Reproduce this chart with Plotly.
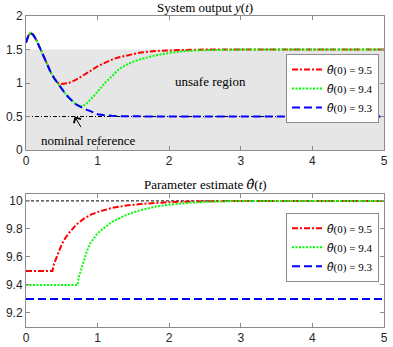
import plotly.graph_objects as go

# ---------------- data ----------------
THETA_HAT = "<span style='font-family:DejaVu Serif'><i>θ\u0302</i></span>"
legend_names = [THETA_HAT + "(0) = 9.5", THETA_HAT + "(0) = 9.4", THETA_HAT + "(0) = 9.3"]

# System output y(t)
t_y_red = [0, 0.03, 0.06, 0.1, 0.15, 0.2, 0.25, 0.3, 0.35, 0.4, 0.45, 0.5, 0.55, 0.6, 0.7,
           0.8, 0.9, 1.0, 1.1, 1.2, 1.3, 1.4, 1.5, 1.6, 1.8, 2.0, 2.3, 2.6, 3, 4, 5]
y_red = [1.6, 1.70, 1.75, 1.72, 1.63, 1.51, 1.38, 1.26, 1.15, 1.06, 1.0, 0.985, 0.99, 1.0, 1.05,
         1.11, 1.18, 1.25, 1.30, 1.35, 1.385, 1.41, 1.435, 1.455, 1.478, 1.49, 1.497, 1.5, 1.5, 1.5, 1.5]

t_y_green = [0, 0.03, 0.06, 0.1, 0.15, 0.2, 0.25, 0.3, 0.35, 0.4, 0.45, 0.5, 0.55, 0.6, 0.65, 0.7,
             0.75, 0.8, 0.85, 0.9, 0.95, 1.0, 1.1, 1.2, 1.3, 1.4, 1.5, 1.6, 1.8, 2.0, 2.2, 2.4, 2.7, 3, 4, 5]
y_green = [1.6, 1.70, 1.75, 1.72, 1.63, 1.51, 1.38, 1.26, 1.15, 1.06, 0.98, 0.90, 0.84, 0.78, 0.73, 0.68,
           0.65, 0.66, 0.70, 0.75, 0.81, 0.87, 1.0, 1.1, 1.21, 1.27, 1.32, 1.355, 1.41, 1.45, 1.475, 1.488, 1.496, 1.5, 1.5, 1.5]

t_y_blue = [0, 0.03, 0.06, 0.1, 0.15, 0.2, 0.25, 0.3, 0.35, 0.4, 0.45, 0.5, 0.55, 0.6, 0.65, 0.7,
            0.75, 0.8, 0.85, 0.9, 1.0, 1.1, 1.2, 1.4, 1.6, 2.0, 2.5, 3, 4, 5]
y_blue = [1.6, 1.70, 1.75, 1.72, 1.63, 1.51, 1.38, 1.26, 1.15, 1.06, 0.98, 0.90, 0.84, 0.78, 0.73, 0.68,
          0.65, 0.62, 0.60, 0.58, 0.535, 0.52, 0.51, 0.503, 0.501, 0.5, 0.5, 0.5, 0.5, 0.5]

# Parameter estimate theta_hat(t)
t_th_red = [0, 0.37, 0.39, 0.45, 0.5, 0.55, 0.6, 0.7, 0.8, 0.9, 1.0, 1.2, 1.4, 1.6, 1.8, 2.0, 2.3, 2.6, 3, 5]
th_red = [9.5, 9.5, 9.55, 9.635, 9.69, 9.735, 9.77, 9.83, 9.87, 9.9, 9.92, 9.95, 9.967, 9.978,
          9.986, 9.991, 9.996, 9.999, 10, 10]

t_th_green = [0, 0.72, 0.74, 0.78, 0.85, 0.9, 1.0, 1.1, 1.2, 1.4, 1.6, 1.8, 2.0, 2.3, 2.6, 3, 5]
th_green = [9.4, 9.4, 9.46, 9.53, 9.64, 9.70, 9.77, 9.81, 9.85, 9.90, 9.935, 9.958, 9.973, 9.987, 9.995, 10, 10]

t_th_blue = [0, 5]
th_blue = [9.3, 9.3]

# reference levels and region
t_span = [0, 5]
y_nominal = [0.5, 0.5]
theta_true = [10, 10]
unsafe_t = [0, 5, 5, 0]
unsafe_y = [0, 0, 1.5, 1.5]

x_ticks = [0, 1, 2, 3, 4, 5]
x_ticks_text = ["0", "1", "2", "3", "4", "5"]
y_ticks_top = [0, 0.5, 1, 1.5, 2]
y_ticks_top_text = ["0", "0.5", "1", "1.5", "2"]
y_ticks_bot = [9.2, 9.4, 9.6, 9.8, 10]
y_ticks_bot_text = ["9.2", "9.4", "9.6", "9.8", "10"]

# ---------------- styles ----------------
RED, GREEN, BLUE = "#ff0000", "#00ff00", "#0000ff"
DASH_RED = "6px,2px,2px,2px"
DASH_GREEN = "2px,1.5px"
DASH_BLUE = "8px,4px"
SERIF = "'Liberation Serif', 'Times New Roman', 'DejaVu Serif', serif"
SANS = "'Liberation Sans', Arial, Helvetica, sans-serif"
AXC = "#8c8c8c"

fig = go.Figure()

# unsafe region
fig.add_trace(go.Scatter(x=unsafe_t, y=unsafe_y, fill="toself", fillcolor="#e6e6e6",
                         line=dict(width=0), mode="lines", showlegend=False, hoverinfo="skip",
                         xaxis="x", yaxis="y"))
# nominal reference
fig.add_trace(go.Scatter(x=t_span, y=y_nominal, mode="lines",
                         line=dict(color="black", width=1, dash="4px,2px,1px,2px"),
                         showlegend=False, xaxis="x", yaxis="y"))

fig.add_trace(go.Scatter(x=t_y_red, y=y_red, mode="lines", name=legend_names[0],
                         line=dict(color=RED, width=2, dash=DASH_RED), xaxis="x", yaxis="y",
                         legend="legend"))
fig.add_trace(go.Scatter(x=t_y_green, y=y_green, mode="lines", name=legend_names[1],
                         line=dict(color=GREEN, width=2, dash=DASH_GREEN), xaxis="x", yaxis="y",
                         legend="legend"))
fig.add_trace(go.Scatter(x=t_y_blue, y=y_blue, mode="lines", name=legend_names[2],
                         line=dict(color=BLUE, width=2, dash=DASH_BLUE), xaxis="x", yaxis="y",
                         legend="legend"))

# bottom panel
fig.add_trace(go.Scatter(x=t_span, y=theta_true, mode="lines",
                         line=dict(color="black", width=1, dash="3px,2px"),
                         showlegend=False, xaxis="x2", yaxis="y2"))
fig.add_trace(go.Scatter(x=t_th_red, y=th_red, mode="lines", name=legend_names[0],
                         line=dict(color=RED, width=2, dash=DASH_RED), xaxis="x2", yaxis="y2",
                         legend="legend2"))
fig.add_trace(go.Scatter(x=t_th_green, y=th_green, mode="lines", name=legend_names[1],
                         line=dict(color=GREEN, width=2, dash=DASH_GREEN), xaxis="x2", yaxis="y2",
                         legend="legend2"))
fig.add_trace(go.Scatter(x=t_th_blue, y=th_blue, mode="lines", name=legend_names[2],
                         line=dict(color=BLUE, width=2, dash=DASH_BLUE), xaxis="x2", yaxis="y2",
                         legend="legend2"))

axis_common = dict(showline=True, linecolor=AXC, linewidth=1, mirror="ticks", ticks="inside",
                   ticklen=4, tickcolor=AXC, showgrid=False, zeroline=False,
                   automargin=False, ticklabeloverflow="allow",
                   tickfont=dict(family=SANS, size=12, color="#262626"))

X_RANGE = [0, 5]

fig.update_layout(
    template="none",
    width=393, height=347,
    margin=dict(l=26, r=9, t=16, b=20, autoexpand=False),
    plot_bgcolor="white", paper_bgcolor="white",
    hovermode=False,
    xaxis=dict(domain=[0, 1], range=X_RANGE, tickvals=x_ticks, ticktext=x_ticks_text, anchor="y", **axis_common),
    yaxis=dict(domain=[0.569, 1], range=[0, 2], tickvals=y_ticks_top, ticktext=y_ticks_top_text,
               anchor="x", **axis_common),
    xaxis2=dict(domain=[0, 1], range=X_RANGE, tickvals=x_ticks, ticktext=x_ticks_text, anchor="y2", **axis_common),
    yaxis2=dict(domain=[0, 0.428], range=[9.1, 10.05], tickvals=y_ticks_bot, ticktext=y_ticks_bot_text,
                anchor="x2", **axis_common),
    legend=dict(x=0.986, xanchor="right", y=0.878, yanchor="top", bgcolor="white",
                bordercolor=AXC, borderwidth=1, font=dict(family=SERIF, size=11, color="black"),
                tracegroupgap=0),
    legend2=dict(x=0.986, xanchor="right", y=0.367, yanchor="top", bgcolor="white",
                 bordercolor=AXC, borderwidth=1, font=dict(family=SERIF, size=11, color="black"),
                 tracegroupgap=0),
    showlegend=True,
    annotations=[
        dict(text="System output <i>y</i>(<i>t</i>)", xref="paper", yref="paper", x=0.5, y=1.0,
             xanchor="center", yanchor="bottom", yshift=-1, showarrow=False,
             font=dict(family=SERIF, size=13, color="black")),
        dict(text="Parameter estimate " + THETA_HAT + "(<i>t</i>)", xref="paper", yref="paper", x=0.5, y=0.428,
             xanchor="center", yanchor="bottom", yshift=0, showarrow=False,
             font=dict(family=SERIF, size=13, color="black")),
        dict(text="unsafe region", xref="x", yref="y", x=2.57, y=1.03, showarrow=False,
             font=dict(family=SERIF, size=13, color="black")),
        dict(text="nominal reference", xref="x", yref="y", x=0.866, y=0.14, showarrow=False,
             font=dict(family=SERIF, size=13, color="black")),
        dict(text="", xref="x", yref="y", x=0.68, y=0.5, axref="x", ayref="y", ax=0.78, ay=0.32,
             showarrow=True, arrowhead=4, arrowsize=1.6, arrowwidth=1, arrowcolor="black"),
    ],
)

fig.write_html(
    "out.html",
    config={"displayModeBar": False, "staticPlot": True},
    post_script=("document.documentElement.style.margin='0px';document.documentElement.style.padding='0px';"
                 "document.documentElement.style.overflow='hidden';"
                 "document.body.style.margin='0px';document.body.style.padding='0px';"
                 "document.body.style.overflow='hidden';"),
)
